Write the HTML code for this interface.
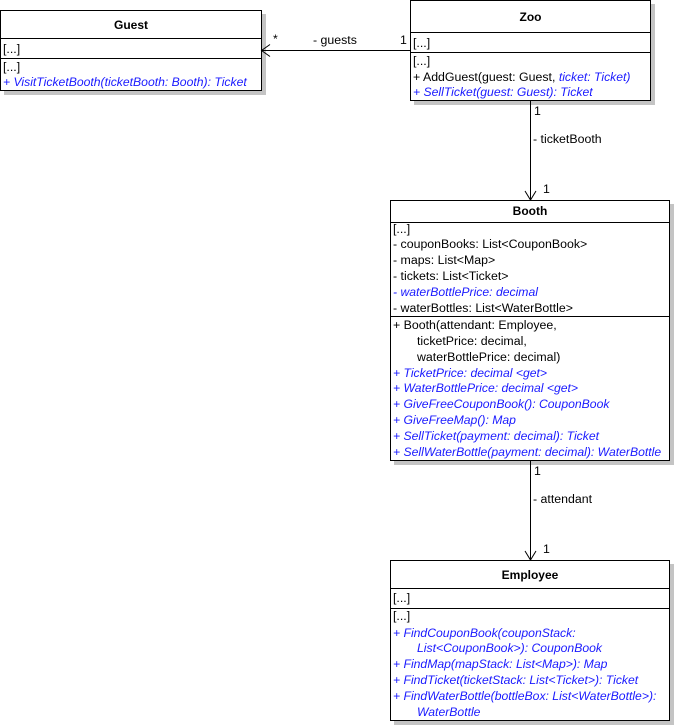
<!DOCTYPE html>
<html><head><meta charset="utf-8"><style>
html,body{margin:0;padding:0;background:#fff;width:675px;height:725px;overflow:hidden;position:relative;font-family:"Liberation Sans",Arial,sans-serif;font-size:12.35px;color:#000}
.box{position:absolute;box-sizing:border-box;border:1px solid #000;background:#fff;box-shadow:4px 4px 0 #c4c4c4}
.sep{position:absolute;left:0;right:0;height:1px;background:#000}
.t{position:absolute;height:16px;line-height:16px;white-space:nowrap}
.b{font-weight:bold;text-align:center;font-size:12px}
.i{font-style:italic;color:#1a1aff;font-size:12.2px}
svg{position:absolute;left:0;top:0;z-index:5}
</style></head><body>

<!-- Guest -->
<div class="box" style="left:0;top:10px;width:262px;height:81px">
<div class="sep" style="top:27px"></div>
<div class="sep" style="top:47px"></div>
</div>
<div class="t b" style="left:0;width:262px;top:17px">Guest</div>
<div class="t" style="left:3px;top:41px">[...]</div>
<div class="t" style="left:3px;top:59px">[...]</div>
<div class="t i" style="left:3px;top:74px">+ VisitTicketBooth(ticketBooth: Booth): Ticket</div>

<!-- Zoo -->
<div class="box" style="left:410px;top:0;width:241px;height:101px">
<div class="sep" style="top:31px"></div>
<div class="sep" style="top:51px"></div>
</div>
<div class="t b" style="left:410px;width:241px;top:9px">Zoo</div>
<div class="t" style="left:413px;top:35px">[...]</div>
<div class="t" style="left:413px;top:53px">[...]</div>
<div class="t" style="left:413px;top:69px">+ AddGuest(guest: Guest, <span class="i">ticket: Ticket)</span></div>
<div class="t i" style="left:413px;top:84px">+ SellTicket(guest: Guest): Ticket</div>

<!-- connector labels -->
<div class="t" style="left:273px;top:31px">*</div>
<div class="t" style="left:313px;top:32px">- guests</div>
<div class="t" style="left:400px;top:32px">1</div>
<div class="t" style="left:534px;top:103px">1</div>
<div class="t" style="left:533px;top:131px">- ticketBooth</div>
<div class="t" style="left:543px;top:181px">1</div>
<div class="t" style="left:534px;top:463px">1</div>
<div class="t" style="left:533px;top:491px">- attendant</div>
<div class="t" style="left:543px;top:541px">1</div>

<!-- Booth -->
<div class="box" style="left:390px;top:200px;width:280px;height:261px">
<div class="sep" style="top:21px"></div>
<div class="sep" style="top:115px"></div>
</div>
<div class="t b" style="left:390px;width:280px;top:203px">Booth</div>
<div class="t" style="left:393px;top:221px">[...]</div>
<div class="t" style="left:393px;top:236px">- couponBooks: List&lt;CouponBook&gt;</div>
<div class="t" style="left:393px;top:252px">- maps: List&lt;Map&gt;</div>
<div class="t" style="left:393px;top:268px">- tickets: List&lt;Ticket&gt;</div>
<div class="t i" style="left:393px;top:284px">- waterBottlePrice: decimal</div>
<div class="t" style="left:393px;top:300px">- waterBottles: List&lt;WaterBottle&gt;</div>
<div class="t" style="left:393px;top:317px">+ Booth(attendant: Employee,</div>
<div class="t" style="left:417px;top:333px">ticketPrice: decimal,</div>
<div class="t" style="left:417px;top:349px">waterBottlePrice: decimal)</div>
<div class="t i" style="left:393px;top:365px">+ TicketPrice: decimal &lt;get&gt;</div>
<div class="t i" style="left:393px;top:380px">+ WaterBottlePrice: decimal &lt;get&gt;</div>
<div class="t i" style="left:393px;top:396px">+ GiveFreeCouponBook(): CouponBook</div>
<div class="t i" style="left:393px;top:412px">+ GiveFreeMap(): Map</div>
<div class="t i" style="left:393px;top:428px">+ SellTicket(payment: decimal): Ticket</div>
<div class="t i" style="left:393px;top:444px">+ SellWaterBottle(payment: decimal): WaterBottle</div>

<!-- Employee -->
<div class="box" style="left:390px;top:560px;width:280px;height:161px">
<div class="sep" style="top:27px"></div>
<div class="sep" style="top:47px"></div>
</div>
<div class="t b" style="left:390px;width:280px;top:567px">Employee</div>
<div class="t" style="left:393px;top:590px">[...]</div>
<div class="t" style="left:393px;top:608px">[...]</div>
<div class="t i" style="left:393px;top:625px">+ FindCouponBook(couponStack:</div>
<div class="t i" style="left:417px;top:640px">List&lt;CouponBook&gt;): CouponBook</div>
<div class="t i" style="left:393px;top:656px">+ FindMap(mapStack: List&lt;Map&gt;): Map</div>
<div class="t i" style="left:393px;top:672px">+ FindTicket(ticketStack: List&lt;Ticket&gt;): Ticket</div>
<div class="t i" style="left:393px;top:688px">+ FindWaterBottle(bottleBox: List&lt;WaterBottle&gt;):</div>
<div class="t i" style="left:417px;top:704px">WaterBottle</div>

<svg width="675" height="725">
<g stroke="#000" stroke-width="1" fill="none">
<line x1="262" y1="50.5" x2="410" y2="50.5"/>
<polyline points="270,44.5 261.5,50.5 270,56.5"/>
<line x1="530.5" y1="101" x2="530.5" y2="200"/>
<polyline points="525,191 530.5,200 536,191"/>
<line x1="530.5" y1="461" x2="530.5" y2="560"/>
<polyline points="525,551 530.5,560 536,551"/>
</g>
</svg>
</body></html>
